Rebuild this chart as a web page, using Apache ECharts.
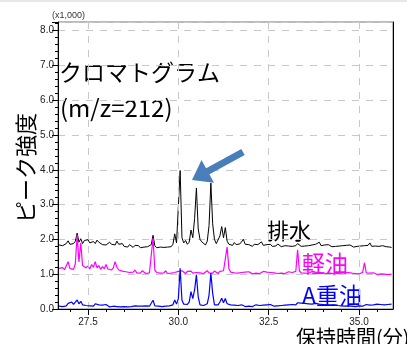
<!DOCTYPE html>
<html>
<head>
<meta charset="utf-8">
<script src="https://cdn.jsdelivr.net/npm/echarts@6/dist/echarts.min.js"></script>
<style>
  html, body { margin: 0; padding: 0; background: #fff; }
  #chart { width: 407px; height: 344px; }
</style>
</head>
<body>
<div id="chart"></div>
<script>
// sampling: start time and step (min)
var t0 = 26.70, dt = 0.05;

var seriesNames = ['排水', '軽油', 'A重油'];

// 排水 (x1,000)
var haisui = [
  1.84,1.86,1.82,1.85,1.88,1.96,1.86,1.84,1.88,1.95,
  2.18,1.92,2.02,1.88,1.97,1.93,1.99,1.90,1.86,1.94,
  1.88,1.98,1.92,1.90,1.85,1.89,1.84,1.87,1.92,1.86,
  1.90,1.84,1.95,1.86,1.83,1.88,1.80,1.84,1.78,1.85,
  1.80,1.77,1.83,1.79,1.82,1.76,1.80,1.78,1.75,1.79,
  1.77,1.85,2.12,1.82,1.76,1.74,1.78,1.75,1.77,1.74,
  1.78,1.76,1.79,1.86,2.16,1.90,1.95,3.98,2.05,1.90,
  1.97,1.86,1.92,2.27,2.05,2.60,3.48,2.30,2.00,1.93,
  1.88,1.84,1.95,2.40,3.62,2.45,2.00,1.88,1.92,2.10,
  2.37,2.05,2.34,1.95,1.86,1.88,1.83,1.91,1.85,1.82,
  1.87,1.84,2.00,1.86,1.83,1.85,1.84,1.80,1.86,1.82,
  1.85,1.81,1.93,1.83,1.80,1.85,1.82,1.86,1.80,1.84,
  1.81,1.87,1.83,1.79,1.84,1.82,1.86,1.81,1.84,1.80,
  1.85,1.82,1.88,1.83,1.80,1.84,1.81,1.85,1.82,1.79,
  1.84,1.81,1.86,1.83,1.92,1.82,1.80,1.84,1.81,1.85,
  1.82,1.79,1.83,1.80,1.84,1.81,1.86,1.82,1.79,1.83,
  1.80,1.84,1.81,1.78,1.82,1.80,1.85,1.81,1.78,1.82,
  1.79,1.83,1.90,1.80,1.78,1.81,1.77,1.80,1.78,1.82,
  1.77,1.79,1.76,1.78,1.77
];

// 軽油
var keiyu = [
  1.17,1.15,1.19,1.13,1.18,1.36,1.16,1.20,1.14,1.30,
  2.13,1.35,1.90,1.25,1.30,1.18,1.24,1.15,1.28,1.20,
  1.36,1.18,1.25,1.14,1.22,1.16,1.28,1.15,1.20,1.12,
  1.18,1.36,1.20,1.12,1.16,1.09,1.14,1.07,1.12,1.05,
  1.10,1.06,1.12,1.04,1.08,1.03,1.10,1.05,1.02,1.07,
  1.04,1.08,2.04,1.12,1.05,1.09,1.03,1.08,1.04,1.10,
  1.02,1.06,1.03,1.00,1.05,1.02,1.08,1.04,1.10,1.05,
  1.02,1.08,1.04,1.09,1.03,1.07,1.05,1.10,1.04,1.08,
  1.02,1.06,1.10,1.04,1.07,1.03,1.09,1.05,1.02,1.08,
  1.04,1.10,1.12,1.78,1.15,1.06,1.09,1.04,1.07,1.03,
  1.08,1.05,1.02,1.06,1.03,1.07,1.04,1.01,1.06,1.03,
  1.07,1.02,1.05,1.08,1.03,1.06,1.02,1.05,1.01,1.04,
  1.07,1.02,1.05,1.03,1.06,1.02,1.04,1.07,1.03,1.05,
  1.02,1.08,1.70,1.10,1.04,1.07,1.03,1.06,1.02,1.05,
  1.08,1.03,1.06,1.02,1.05,1.01,1.04,1.07,1.02,1.05,
  1.03,1.06,1.01,1.04,1.02,1.05,1.03,1.00,1.04,1.02,
  1.05,1.01,1.03,1.06,1.02,1.04,1.01,1.03,1.05,1.33,
  1.04,1.01,1.03,1.00,1.04,1.02,0.99,1.03,1.01,1.04,
  1.00,1.02,0.99,1.01,1.00
];

// A重油
var ajuyu = [
  0.08,0.10,0.07,0.11,0.09,0.16,0.12,0.20,0.13,0.18,
  0.26,0.15,0.22,0.12,0.17,0.10,0.14,0.09,0.13,0.08,
  0.15,0.10,0.12,0.07,0.11,0.08,0.13,0.09,0.06,0.11,
  0.08,0.12,0.07,0.10,0.06,0.09,0.07,0.11,0.06,0.09,
  0.07,0.05,0.09,0.06,0.08,0.05,0.08,0.06,0.09,0.05,
  0.08,0.10,0.25,0.09,0.06,0.08,0.05,0.07,0.05,0.08,
  0.06,0.09,0.07,0.12,0.26,0.14,0.30,1.17,0.25,0.14,
  0.10,0.13,0.20,0.50,0.30,0.55,0.98,0.35,0.12,0.08,
  0.10,0.07,0.15,0.40,1.03,0.45,0.12,0.09,0.12,0.20,
  0.31,0.18,0.30,0.15,0.10,0.12,0.08,0.11,0.07,0.10,
  0.08,0.12,0.09,0.07,0.10,0.08,0.11,0.07,0.09,0.12,
  0.08,0.10,0.07,0.11,0.08,0.12,0.09,0.13,0.10,0.08,
  0.12,0.09,0.14,0.10,0.13,0.11,0.15,0.12,0.17,0.13,
  0.16,0.12,0.18,0.14,0.17,0.13,0.16,0.12,0.15,0.11,
  0.14,0.12,0.16,0.11,0.14,0.10,0.13,0.09,0.12,0.08,
  0.11,0.09,0.12,0.08,0.10,0.13,0.09,0.11,0.08,0.12,
  0.09,0.11,0.08,0.10,0.07,0.11,0.09,0.12,0.08,0.10,
  0.13,0.09,0.11,0.08,0.12,0.10,0.14,0.11,0.13,0.10,
  0.12,0.09,0.13,0.11,0.14
];

var xMajorTicks = [27.5, 30, 32.5, 35];
var xMinorTicks = [27, 28, 28.5, 29, 29.5, 30.5, 31, 31.5, 32, 33, 33.5, 34, 34.5, 35.5];

var xMin = 26.67, xMax = 35.94;
var yMin = 0, yMax = 8.25;

function toPairs(arr) {
  return arr.map(function (v, i) {
    return [+(t0 + i * dt).toFixed(2), v];
  });
}

var jp = '"Noto Sans CJK JP", sans-serif';
var gridDash = { color: '#c8c8c8', width: 1, type: [7, 7] };

var chart = echarts.init(document.getElementById('chart'));

// arrow geometry (decoration)
var tail = [243, 152], tip = [192, 180];
var dx = tip[0] - tail[0], dy = tip[1] - tail[1];
var len = Math.sqrt(dx * dx + dy * dy);
var ux = dx / len, uy = dy / len;
var headLen = 18, headHalf = 13;
var base = [tip[0] - ux * headLen, tip[1] - uy * headLen];
var px = -uy * headHalf, py = ux * headHalf;

chart.setOption({
  animation: false,
  grid: {
    left: 58, right: 14, top: 22, bottom: 35,
    show: true, borderColor: '#777', borderWidth: 1
  },
  xAxis: [
    {
      type: 'value', min: xMin, max: xMax,
      axisLine: { show: true, onZero: false, lineStyle: { color: '#000', width: 1 } },
      axisTick: { show: true, customValues: xMajorTicks, length: 6, lineStyle: { color: '#000' } },
      axisLabel: {
        customValues: xMajorTicks, margin: 8,
        color: '#222', fontSize: 10, fontFamily: 'Liberation Sans, Arial, sans-serif',
        formatter: function (v) { return v.toFixed(1); }
      },
      splitLine: { show: false }
    },
    {
      type: 'value', min: xMin, max: xMax, position: 'bottom',
      axisLine: { show: false },
      axisTick: { show: true, customValues: xMinorTicks, length: 3, lineStyle: { color: '#000' } },
      axisLabel: { show: false },
      splitLine: { show: false }
    }
  ],
  yAxis: [
    {
      type: 'value', min: yMin, max: yMax, interval: 1,
      axisLine: { show: true, lineStyle: { color: '#000', width: 1 } },
      axisTick: { show: true, length: 6, lineStyle: { color: '#000' } },
      axisLabel: {
        margin: 4, color: '#222', fontSize: 10, fontFamily: 'Liberation Sans, Arial, sans-serif',
        formatter: function (v) { return v % 1 === 0 ? v.toFixed(1) : ''; }
      },
      splitLine: { show: true, lineStyle: gridDash }
    },
    {
      type: 'value', min: yMin, max: yMax, interval: 0.2, position: 'left',
      axisLine: { show: false },
      axisTick: { show: true, length: 3, lineStyle: { color: '#000' } },
      axisLabel: { show: false },
      splitLine: { show: false }
    },
    {
      type: 'value', min: yMin, max: yMax, position: 'right',
      axisLine: { show: true, lineStyle: { color: '#000', width: 1 } },
      axisTick: { show: false },
      axisLabel: { show: false },
      splitLine: { show: false }
    }
  ],
  series: [
    {
      type: 'line', data: [], z: 1, silent: true,
      markLine: {
        silent: true, symbol: 'none', label: { show: false },
        lineStyle: gridDash,
        data: xMajorTicks.map(function (v) { return { xAxis: v }; })
      }
    },
    {
      name: seriesNames[0], type: 'line', data: toPairs(haisui), z: 3,
      showSymbol: false, lineStyle: { color: '#000', width: 1 }, itemStyle: { color: '#000' }
    },
    {
      name: seriesNames[1], type: 'line', data: toPairs(keiyu), z: 4,
      showSymbol: false, lineStyle: { color: '#ff00ff', width: 1.2 }, itemStyle: { color: '#ff00ff' }
    },
    {
      name: seriesNames[2], type: 'line', data: toPairs(ajuyu), z: 5,
      showSymbol: false, lineStyle: { color: '#0000ff', width: 1.2 }, itemStyle: { color: '#0000ff' }
    }
  ],
  graphic: [
    { type: 'line', shape: { x1: 0, y1: 1, x2: 407, y2: 1 }, style: { stroke: '#d0d0d0', lineWidth: 1 } },
    { type: 'text', x: 52, y: 16, style: { text: '(x1,000)', fill: '#333', font: '9px "Liberation Sans", Arial, sans-serif', textVerticalAlign: 'middle' } },
    { type: 'text', x: 59, y: 72, style: { text: 'クロマトグラム', fill: '#000', font: '23px ' + jp, textVerticalAlign: 'middle' } },
    { type: 'text', x: 60, y: 108, style: { text: '(m/z=212)', fill: '#000', font: '24px ' + jp, textVerticalAlign: 'middle' } },
    { type: 'text', x: 26, y: 168, rotation: Math.PI / 2, style: { text: 'ピーク強度', fill: '#000', font: '22px ' + jp, textAlign: 'center', textVerticalAlign: 'middle' } },
    { type: 'text', x: 296, y: 337, style: { text: '保持時間(分)', fill: '#000', font: '20px ' + jp, textVerticalAlign: 'middle' } },
    { type: 'text', x: 267, y: 231, style: { text: seriesNames[0], fill: '#000', font: '22px ' + jp, textVerticalAlign: 'middle' } },
    { type: 'text', x: 302, y: 263, style: { text: seriesNames[1], fill: '#ff00ff', font: '23px ' + jp, textVerticalAlign: 'middle' } },
    { type: 'text', x: 302, y: 295, style: { text: seriesNames[2], fill: '#0000ff', font: '23px ' + jp, textVerticalAlign: 'middle' } },
    {
      type: 'line', z: 10,
      shape: { x1: tail[0], y1: tail[1], x2: base[0] + ux * 2, y2: base[1] + uy * 2 },
      style: { stroke: '#4a7ebb', lineWidth: 7 }
    },
    {
      type: 'polygon', z: 10,
      shape: { points: [tip, [base[0] + px, base[1] + py], [base[0] - px, base[1] - py]] },
      style: { fill: '#4a7ebb' }
    }
  ]
});
</script>
</body>
</html>
